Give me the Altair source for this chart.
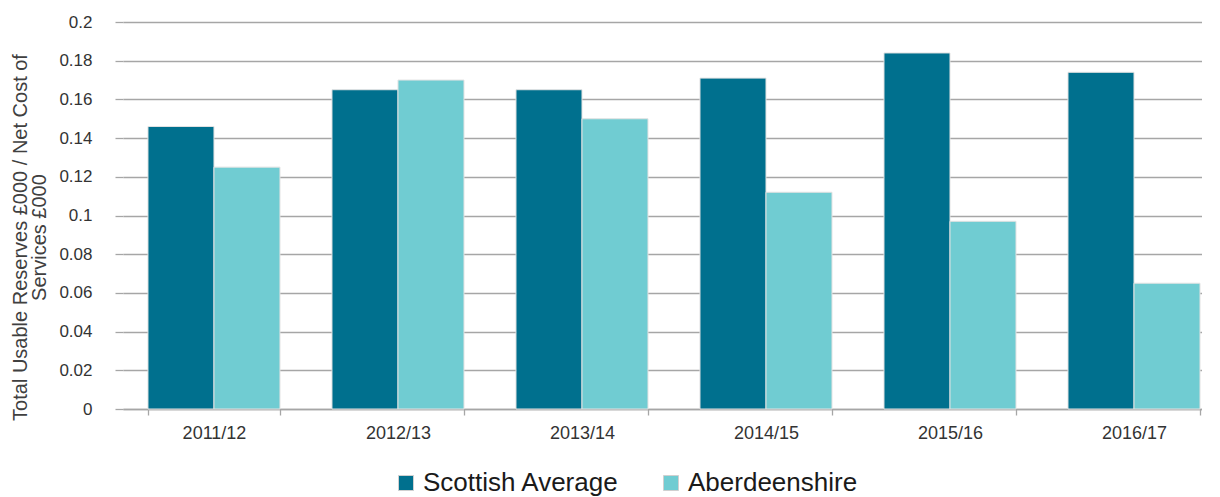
import altair as alt
import pandas as pd

years = ["2011/12", "2012/13", "2013/14", "2014/15", "2015/16", "2016/17"]
scottish = [0.146, 0.165, 0.165, 0.171, 0.184, 0.174]
aberdeenshire = [0.125, 0.170, 0.150, 0.112, 0.097, 0.065]
series = ["Scottish Average", "Aberdeenshire"]
y_ticks = [0, 0.02, 0.04, 0.06, 0.08, 0.1, 0.12, 0.14, 0.16, 0.18, 0.2]

rows = []
for i, y in enumerate(years):
    rows.append({"year": y, "series": series[0], "value": scottish[i]})
    rows.append({"year": y, "series": series[1], "value": aberdeenshire[i]})
df = pd.DataFrame(rows)

FONT = "Liberation Sans"
GRID = "#A6A6A6"

chart = alt.Chart(df).mark_bar(stroke="#E2E2E2", strokeWidth=1).encode(
    x=alt.X("year:N", sort=years, title=None,
            scale=alt.Scale(paddingInner=0.2826, paddingOuter=0.0733, align=0.926),
            axis=alt.Axis(labelAngle=0, labelFontSize=18, labelColor="#333333",
                          labelFont=FONT, tickBand="extent", ticks=True,
                          tickColor=GRID, tickSize=6, tickWidth=1.3,
                          domainColor=GRID, domainWidth=1.3,
                          labelPadding=9, grid=False)),
    xOffset=alt.XOffset("series:N", sort=series),
    y=alt.Y("value:Q", title=["Total Usable Reserves £000 / Net Cost of", "Services £000"],
            scale=alt.Scale(domain=[0, 0.2], nice=False),
            axis=alt.Axis(values=y_ticks, format="~g", labelFontSize=17,
                          labelColor="#333333", labelFont=FONT,
                          titleFont=FONT, titleFontSize=20, titleFontWeight="normal",
                          titleColor="#404040", titlePadding=9, titleLineHeight=19,
                          titleY=215,
                          domain=False, ticks=True, tickSize=8, tickColor=GRID,
                          tickWidth=1.3, labelPadding=23,
                          gridColor=GRID, gridWidth=1.3)),
    color=alt.Color("series:N", sort=series,
                    scale=alt.Scale(domain=series, range=["#00708E", "#70CCD2"]),
                    legend=alt.Legend(orient="none", legendX=270, legendY=448,
                                      title=None, symbolType="square",
                                      symbolSize=225, labelFontSize=26, labelFont=FONT,
                                      labelColor="#1A1A1A", columnPadding=38,
                                      labelOffset=4, labelLimit=500,
                                      symbolStrokeColor="#D0D0D0", symbolStrokeWidth=1,
                                      direction="horizontal")),
).properties(
    width=1079, height=387,
    padding={"left": 2, "top": 5, "right": 0, "bottom": 0},
).configure_view(stroke=None)

chart.save("out.html", embed_options={"renderer": "svg", "actions": False})
